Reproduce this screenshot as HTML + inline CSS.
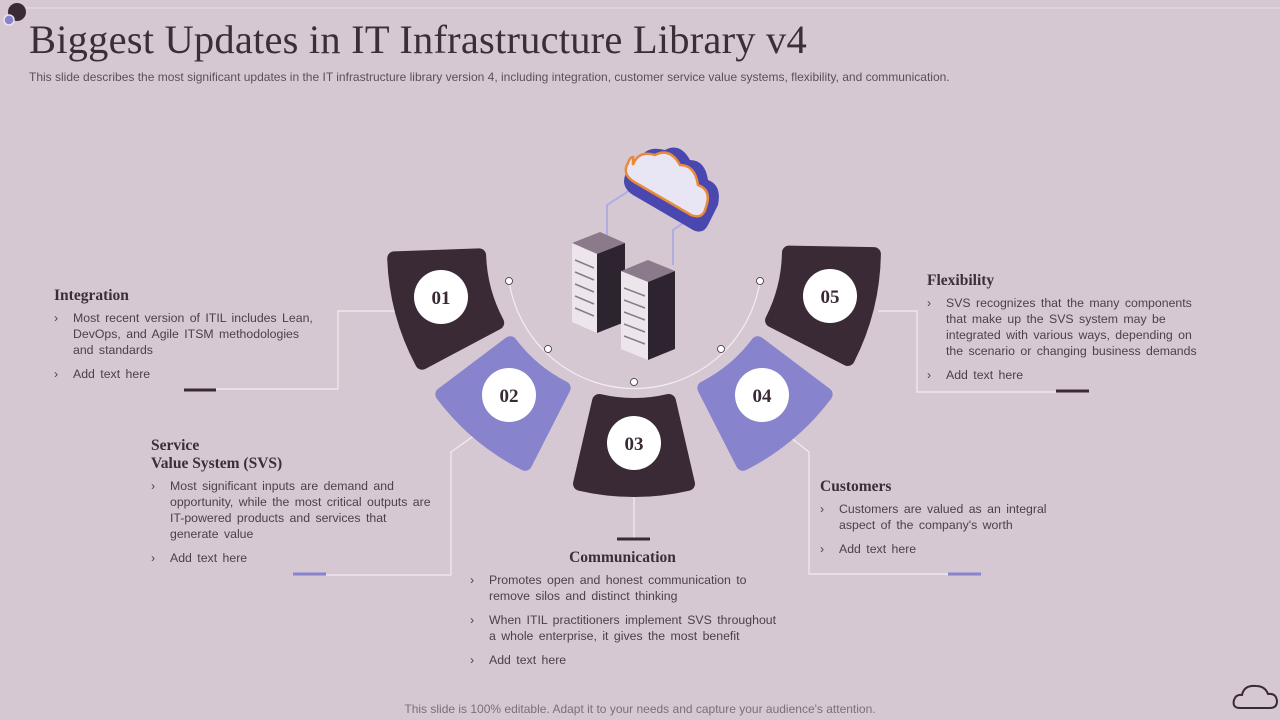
<!DOCTYPE html>
<html><head><meta charset="utf-8"><style>
body{margin:0;width:1280px;height:720px;background:#d6c8d3;position:relative;overflow:hidden;font-family:"Liberation Sans",sans-serif;color:#4a3f4a}
.t{position:absolute}
h1{position:absolute;left:29px;top:16px;margin:0;font:40.5px "Liberation Serif",serif;color:#3a2f38;letter-spacing:0.2px}
.sub{left:29px;top:70px;font-size:12px;color:#5a4f5a}
h3{margin:0 0 5px;font:bold 15.5px "Liberation Serif",serif;color:#3a2f38;line-height:18px}
ul{list-style:none;margin:0;padding:0;font-size:12.3px;line-height:16px;word-spacing:2px}
li{position:relative;padding-left:19px;margin-bottom:8px}
li:before{content:"›";position:absolute;left:0;top:0}
</style></head><body>
<svg width="1280" height="720" style="position:absolute;left:0;top:0">
<line x1="20" y1="8" x2="1280" y2="8" stroke="#e6dce4" stroke-width="1"/>
<circle cx="17" cy="12" r="9" fill="#3a2a35"/>
<circle cx="9" cy="20" r="5" fill="#8783cc" stroke="#e8e2ee" stroke-width="1.5"/>
<g stroke="#f2ecf1" stroke-width="1.2" fill="none">
<polyline points="396,311 338,311 338,389 215,389"/>
<polyline points="475,435 451,452 451,575 326,575"/>
<line x1="634" y1="492" x2="634" y2="538"/>
<polyline points="790,437 809,452 809,574 948,574"/>
<polyline points="878,311 917,311 917,392 1056,392"/>
<path d="M509,281 A127 127 0 0 0 760,281"/>
</g>
<g stroke-width="3">
<line x1="184" y1="390" x2="216" y2="390" stroke="#3a2a35"/>
<line x1="293" y1="574" x2="326" y2="574" stroke="#8783cc"/>
<line x1="617" y1="539" x2="650" y2="539" stroke="#3a2a35"/>
<line x1="948" y1="574" x2="981" y2="574" stroke="#8783cc"/>
<line x1="1056" y1="391" x2="1089" y2="391" stroke="#3a2a35"/>
</g>
<defs><path id="sec" d="M599.1,401 A155 155 0 0 0 668.9 401 L688 483.8 A240 240 0 0 1 580 483.8 Z" stroke-width="14" stroke-linejoin="round"/></defs>
<use href="#sec" transform="rotate(75 634 250)" fill="#3a2a35" stroke="#3a2a35"/>
<use href="#sec" transform="rotate(40 634 250)" fill="#8783cc" stroke="#8783cc"/>
<use href="#sec" fill="#3a2a35" stroke="#3a2a35"/>
<use href="#sec" transform="rotate(-40 634 250)" fill="#8783cc" stroke="#8783cc"/>
<use href="#sec" transform="rotate(-76 634 250)" fill="#3a2a35" stroke="#3a2a35"/>
<g fill="#fff" stroke="#3a2a35" stroke-width="0.8">
<circle cx="509" cy="281" r="3.5"/><circle cx="548" cy="349" r="3.5"/><circle cx="634" cy="382" r="3.5"/><circle cx="721" cy="349" r="3.5"/><circle cx="760" cy="281" r="3.5"/>
</g>
<g fill="#fff"><circle cx="441" cy="297" r="27"/><circle cx="509" cy="395" r="27"/><circle cx="634" cy="443" r="27"/><circle cx="762" cy="395" r="27"/><circle cx="830" cy="296" r="27"/></g>
<g font-family="Liberation Serif,serif" font-weight="bold" font-size="19" fill="#3a2a35" text-anchor="middle">
<text x="441" y="304">01</text><text x="509" y="402">02</text><text x="634" y="450">03</text><text x="762" y="402">04</text><text x="830" y="303">05</text></g>
<path d="M607,240 L607,205 L638,185 M673,265 L673,230 L695,215" stroke="#b0aee0" stroke-width="2" fill="none"/>
<path d="M640,160 q5,-15 25,-10 q15,-8 25,10 q15,0 18,20 q14,5 10,25 l-10,20 q-5,10 -15,5 l-60,-35 q-15,-10 -5,-25 q3,-10 12,-10z" fill="#4a48b0"/>
<path d="M633,165 q5,-15 22,-10 q15,-8 25,10 q15,0 18,20 q14,5 8,22 q-3,13 -15,8 l-55,-32 q-15,-8 -8,-20 q2,-6 5,-6z" fill="#e8e6f4" stroke="#e88a3a" stroke-width="2.5"/>
<g>
<path d="M572,243 L600,232 L625,243 L597,254Z" fill="#8a7a8a"/>
<path d="M572,243 L597,254 L597,333 L572,322Z" fill="#ece6ec"/>
<path d="M597,254 L625,243 L625,322 L597,333Z" fill="#2e2430"/>
<path d="M621,271 L648,260 L675,271 L648,282Z" fill="#8a7a8a"/>
<path d="M621,271 L648,282 L648,360 L621,349Z" fill="#ece6ec"/>
<path d="M648,282 L675,271 L675,349 L648,360Z" fill="#2e2430"/>
<g stroke="#8a7a8a" stroke-width="1.5">
<line x1="575" y1="260" x2="594" y2="268"/><line x1="575" y1="272" x2="594" y2="280"/><line x1="575" y1="284" x2="594" y2="292"/><line x1="575" y1="296" x2="594" y2="304"/><line x1="575" y1="308" x2="594" y2="316"/>
<line x1="624" y1="288" x2="645" y2="296"/><line x1="624" y1="300" x2="645" y2="308"/><line x1="624" y1="312" x2="645" y2="320"/><line x1="624" y1="324" x2="645" y2="332"/><line x1="624" y1="336" x2="645" y2="344"/>
</g></g>
<path d="M1240,708 q-8,0 -6,-8 q2,-6 8,-5 q2,-10 14,-9 q9,0 12,8 q8,-1 9,7 q0,7 -7,7z" fill="none" stroke="#3a2a35" stroke-width="2"/>
</svg>
<h1>Biggest Updates in IT Infrastructure Library v4</h1>
<div class="t sub">This slide describes the most significant updates in the IT infrastructure library version 4, including integration, customer service value systems, flexibility, and communication.</div>
<div class="t" style="left:54px;top:287px;width:268px"><h3>Integration</h3><ul><li>Most recent version of ITIL includes Lean, DevOps, and Agile ITSM methodologies and standards</li><li>Add text here</li></ul></div>
<div class="t" style="left:151px;top:437px;width:288px"><h3>Service<br>Value System (SVS)</h3><ul><li>Most significant inputs are demand and opportunity, while the most critical outputs are IT-powered products and services that generate value</li><li>Add text here</li></ul></div>
<div class="t" style="left:470px;top:549px;width:315px"><h3 style="text-align:center;margin-left:-10px">Communication</h3><ul><li>Promotes open and honest communication to remove silos and distinct thinking</li><li>When ITIL practitioners implement SVS throughout a whole enterprise, it gives the most benefit</li><li>Add text here</li></ul></div>
<div class="t" style="left:820px;top:478px;width:230px"><h3>Customers</h3><ul><li>Customers are valued as an integral aspect of the company's worth</li><li>Add text here</li></ul></div>
<div class="t" style="left:927px;top:272px;width:285px"><h3>Flexibility</h3><ul><li>SVS recognizes that the many components that make up the SVS system may be integrated with various ways, depending on the scenario or changing business demands</li><li>Add text here</li></ul></div>
<div class="t" style="left:0;width:1280px;top:702px;text-align:center;font-size:12px;color:#7a6f7a">This slide is 100% editable. Adapt it to your needs and capture your audience's attention.</div>
</body></html>
